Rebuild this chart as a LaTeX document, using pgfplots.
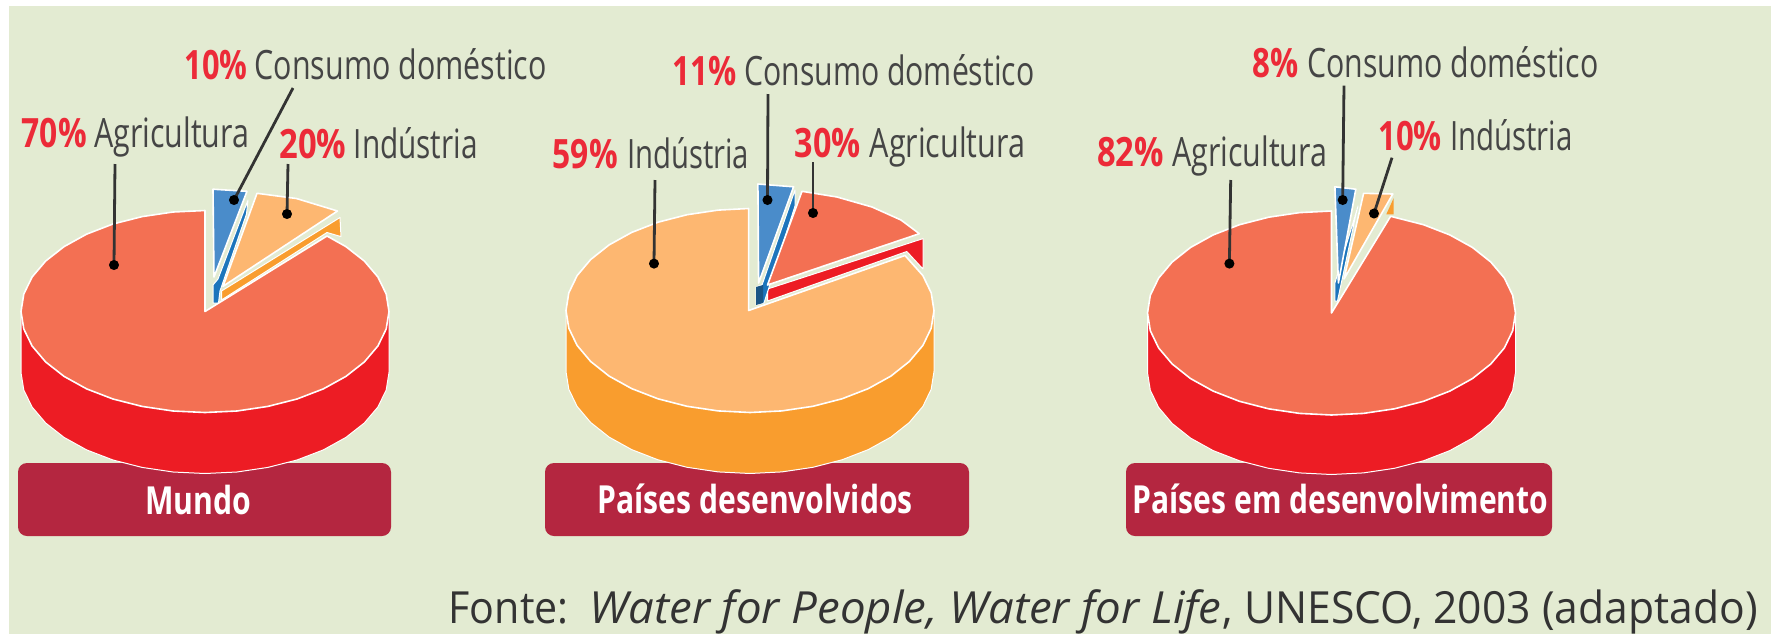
\documentclass[border=0pt]{standalone}
\usepackage{graphicx}
\usepackage{fontspec}
\setmainfont{Open Sans}
\usepackage{pgfplots}
\pgfplotsset{compat=1.18}
\definecolor{bgc}{HTML}{E3EBD2}
\definecolor{coral}{HTML}{F37053}
\definecolor{redside}{HTML}{ED1C24}
\definecolor{lightor}{HTML}{FDB771}
\definecolor{orside}{HTML}{F99D2E}
\definecolor{bluet}{HTML}{4A8CCA}
\definecolor{blues}{HTML}{1C75BC}
\definecolor{navy}{HTML}{1A5585}
\definecolor{boxc}{HTML}{B42640}
\definecolor{pctc}{HTML}{EC2A38}
\definecolor{txt}{HTML}{454545}
\newlength\px
\setlength\px{0.1mm}
\newcommand\nm[4]{\node[anchor=base west,inner sep=0pt,text=txt,font=\fontsize{11.5}{13}\selectfont] at (axis cs:#1,#2) {\resizebox{#3\px}{\height}{#4}};}
\newcommand\pc[4]{\node[anchor=base west,inner sep=0pt,text=pctc,font=\fontsize{11.5}{13}\selectfont\bfseries] at (axis cs:#1,#2) {\resizebox{#3\px}{\height}{#4}};}
\newcommand\bx[4]{\node[anchor=base west,inner sep=0pt,text=white,font=\fontsize{11}{13}\selectfont\bfseries] at (axis cs:#1,#2) {\resizebox{#3\px}{\height}{#4}};}
\newcommand\src[4]{\node[anchor=base west,inner sep=0pt,text=black!80,font=\fontsize{12.6}{15}\selectfont] at (axis cs:#1,#2) {\resizebox{#3\px}{\height}{#4}};}
\pgfplotsset{
  face/.style={fill=#1,draw=white,line width=0.16mm,line join=round},
  side/.style={fill=#1,draw=white,line width=0.1mm,line join=round},
  leader/.style={color=black!80,line width=0.28mm,mark=*,mark size=1.0pt,mark indices={2},mark options={fill=black,draw=black}}
}
\begin{document}
\begin{tikzpicture}
\begin{axis}[
  scale only axis,width=177.1mm,height=63.4mm,
  xmin=0,xmax=1771,ymin=0,ymax=634,y dir=reverse,
  hide axis,clip=false]
\fill[white] (axis cs:0,0) rectangle (axis cs:1771,634);
\fill[bgc] (axis cs:9,6) rectangle (axis cs:1771,634);
% name boxes
\fill[boxc,rounded corners=0.9mm] (axis cs:18,463) rectangle (axis cs:391,536);
\fill[boxc,rounded corners=0.9mm] (axis cs:545,463) rectangle (axis cs:969,536);
\fill[boxc,rounded corners=0.9mm] (axis cs:1126,463) rectangle (axis cs:1552,536);

% ---------- Mundo ----------
\addplot[side=redside] coordinates {(389,311.5)(389,372.5)(386.2,390)(377.9,407)(364.3,423)(345.9,437.4)(323.3,449.9)(297,460)(267.9,467.4)(236.9,472)(205,473.5)(173.1,472)(142.1,467.4)(113,460)(86.7,449.9)(64.1,437.4)(45.7,423)(32.1,407)(23.8,390)(21,372.5)(21,311.5)} --cycle;
\addplot[side=orside] coordinates {(340,217.5)(341,236.6)(327,232.5)(221.5,300)(221.5,291)} --cycle;
\addplot[side=blues] coordinates {(248,200)(246.5,214)(220,291)(218.5,303)(213,303)(213,285)(218,279)} --cycle;
\addplot[face=coral] coordinates {(389,311.5)(386.2,329)(377.9,346)(364.3,362)(345.9,376.4)(323.3,388.9)(297,399)(267.9,406.4)(236.9,411)(205,412.5)(173.1,411)(142.1,406.4)(113,399)(86.7,388.9)(64.1,376.4)(45.7,362)(32.1,346)(23.8,329)(21,311.5)(23.8,294)(32.1,277)(45.7,261)(64.1,246.6)(86.7,234.1)(113,224)(142.1,216.6)(173.1,212)(205,210.5)(205,311.5)(327,236)(345.9,246.6)(364.3,261)(377.9,277)(386.2,294)} --cycle;
\addplot[face=bluet] coordinates {(213,189.2)(247,191.3)(214,277)} --cycle;
\addplot[face=lightor] coordinates {(257,193.3)(296.4,198.5)(337.5,211)(223,286.3)} --cycle;
\addplot[leader] coordinates {(293,88)(234,200)};
\addplot[leader] coordinates {(115,164)(114,265)};
\addplot[leader] coordinates {(288,164)(287,214)};

% ---------- Paises desenvolvidos ----------
\addplot[side=orside] coordinates {(934,310.5)(934,371.5)(931.2,389.2)(922.9,406.4)(909.3,422.5)(890.9,437.1)(868.3,449.6)(842,459.8)(812.9,467.3)(781.9,471.9)(750,473.5)(718.1,471.9)(687.1,467.3)(658,459.8)(631.7,449.6)(609.1,437.1)(590.7,422.5)(577.1,406.4)(568.8,389.2)(566,371.5)(566,310.5)} --cycle;
\addplot[side=redside] coordinates {(923,238.6)(923,269)(906.8,251.5)(767.5,301)(767.5,289)} --cycle;
\addplot[side=blues] coordinates {(795,190)(795,206)(764,303)(756,305)(756,287)(762,285)} --cycle;
\addplot[fill=navy,draw=none] coordinates {(756,287)(763,285)(763,303)(756,305)} --cycle;
\addplot[face=lightor] coordinates {(934,310.5)(931.2,328.2)(922.9,345.4)(909.3,361.5)(890.9,376.1)(868.3,388.6)(842,398.8)(812.9,406.3)(781.9,410.9)(750,412.5)(718.1,410.9)(687.1,406.3)(658,398.8)(631.7,388.6)(609.1,376.1)(590.7,361.5)(577.1,345.4)(568.8,328.2)(566,310.5)(568.8,292.8)(577.1,275.6)(590.7,259.5)(609.1,244.9)(631.7,232.4)(658,222.2)(687.1,214.7)(718.1,210.1)(748.6,208.5)(748.6,310.5)(905,255.5)(922.9,275.6)(931.2,292.8)} --cycle;
\addplot[face=bluet] coordinates {(757.9,184)(793.6,186.8)(758.6,283)} --cycle;
\addplot[face=coral] coordinates {(802,191.3)(837,197)(872,207)(901,220)(919.3,233.7)(767.5,285)} --cycle;
\addplot[leader] coordinates {(768,94)(767.5,200)};
\addplot[leader] coordinates {(655,180)(654,263.6)};
\addplot[leader] coordinates {(813,162)(813,213)};

% ---------- Paises em desenvolvimento ----------
\addplot[side=redside] coordinates {(1515.5,313)(1515.5,372.5)(1512.7,390.2)(1504.4,407.4)(1490.8,423.5)(1472.4,438.1)(1449.8,450.6)(1423.5,460.8)(1394.4,468.3)(1363.4,472.9)(1331.5,474.5)(1299.6,472.9)(1268.6,468.3)(1239.5,460.8)(1213.2,450.6)(1190.6,438.1)(1172.2,423.5)(1158.6,407.4)(1150.3,390.2)(1147.5,372.5)(1147.5,313)} --cycle;
\addplot[side=blues] coordinates {(1358,206)(1356,214)(1337.5,301)(1334.9,301)(1334.9,283)} --cycle;
\addplot[fill=orside,draw=none] coordinates {(1393.7,198)(1393.7,214.3)(1386.3,214.3)} --cycle;
\addplot[face=coral] coordinates {(1515.5,313)(1512.7,330.7)(1504.4,347.9)(1490.8,364)(1472.4,378.6)(1449.8,391.1)(1423.5,401.3)(1394.4,408.8)(1363.4,413.4)(1331.5,415)(1299.6,413.4)(1268.6,408.8)(1239.5,401.3)(1213.2,391.1)(1190.6,378.6)(1172.2,364)(1158.6,347.9)(1150.3,330.7)(1147.5,313)(1150.3,295.3)(1158.6,278.1)(1172.2,262)(1190.6,247.4)(1213.2,234.9)(1239.5,224.7)(1268.6,217.2)(1299.6,212.6)(1331.5,211)(1331.5,313)(1390.6,216.3)(1423.5,224.7)(1449.8,234.9)(1472.4,247.4)(1490.8,262)(1504.4,278.1)(1512.7,295.3)} --cycle;
\addplot[face=bluet] coordinates {(1334.9,186.8)(1355.8,189.2)(1338.4,283)} --cycle;
\addplot[face=lightor] coordinates {(1363.6,193.3)(1392.8,194)(1344,279)} --cycle;
\addplot[leader] coordinates {(1344,85.7)(1342.7,200)};
\addplot[leader] coordinates {(1230.7,180)(1229.4,263.6)};
\addplot[leader] coordinates {(1392,157.7)(1374,213.5)};

% ---------- labels ----------
\pc{184}{79}{63}{10\%}
\nm{254}{79}{292}{Consumo doméstico}
\pc{21}{147.6}{65}{70\%}
\nm{93.6}{147.6}{155}{Agricultura}
\pc{278.6}{158}{67}{20\%}
\nm{353}{158}{124}{Indústria}
\pc{672}{85}{64}{11\%}
\nm{743.6}{85}{290}{Consumo doméstico}
\pc{552}{168}{65}{59\%}
\nm{626.4}{168}{122}{Indústria}
\pc{794}{157}{66}{30\%}
\nm{869}{157}{155.6}{Agricultura}
\pc{1252}{77.6}{46}{8\%}
\nm{1306.6}{77.6}{291}{Consumo doméstico}
\pc{1096.5}{166.6}{66.7}{82\%}
\nm{1171.5}{166.6}{155}{Agricultura}
\pc{1377.6}{150.4}{63.6}{10\%}
\nm{1449.5}{150.4}{122.5}{Indústria}
\bx{144.6}{514}{106}{Mundo}
\bx{597}{513.5}{315}{Países desenvolvidos}
\bx{1132}{513.5}{415.5}{Países em desenvolvimento}
\src{448}{623}{120}{Fonte:}
\src{589}{623}{632}{\textit{Water for People, Water for Life}}
\src{1222}{623}{535}{, UNESCO, 2003 (adaptado)}
\end{axis}
\pgfresetboundingbox
\path (0,0) rectangle (177.1mm,63.4mm);
\end{tikzpicture}
\end{document}
